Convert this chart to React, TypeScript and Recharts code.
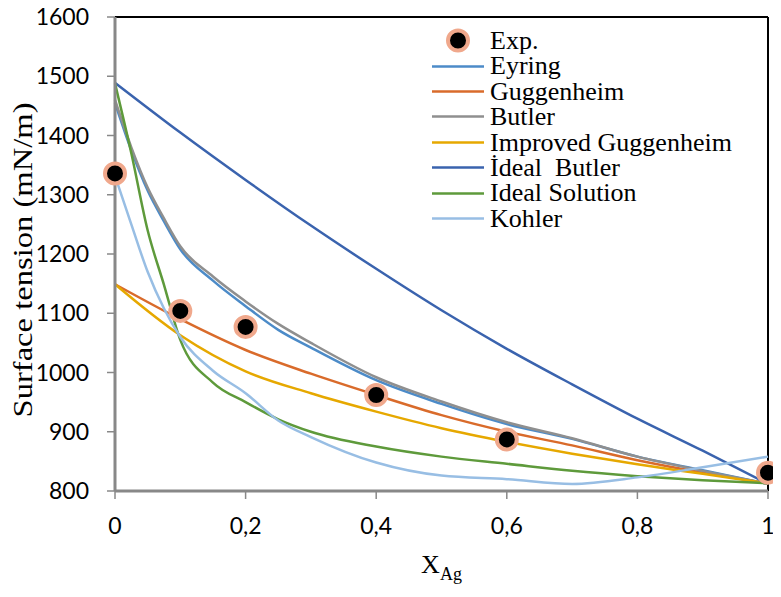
import React from "react";
import {
  ComposedChart,
  Line,
  Scatter,
  XAxis,
  YAxis,
  Legend,
  Label,
  ReferenceLine,
} from "recharts";

// composition grids
const xFine = [0, 0.025, 0.05, 0.075, 0.1, 0.15, 0.2, 0.25, 0.3, 0.4, 0.5, 0.6, 0.7, 0.8, 0.9, 1];
const xCoarse = [0, 0.1, 0.2, 0.3, 0.4, 0.5, 0.6, 0.7, 0.8, 0.9, 1];

// model curves (mN/m)
const eyring = [1455, 1375, 1307, 1255, 1208, 1155, 1112, 1072, 1042, 987, 947, 913, 888, 858, 835, 812];
const butler = [1460, 1380, 1312, 1260, 1213, 1162, 1120, 1082, 1050, 992, 951, 916, 889, 858, 834, 812];
const idealSolution = [1488, 1370, 1240, 1148, 1055, 983, 950, 921, 900, 875, 858, 846, 834, 825, 818, 813];
const kohler = [1332, 1250, 1170, 1108, 1060, 1003, 965, 919, 891, 848, 826, 820, 812, 823, 840, 858];
const guggenheim = [1149, 1090, 1038, 998, 962, 928, 900, 877, 852, 831, 813];
const improvedGuggenheim = [1149, 1063, 1002, 965, 934, 906, 883, 863, 845, 829, 813];
const idealButler = [1489, 1405, 1325, 1248, 1175, 1105, 1040, 980, 922, 868, 812];

// experimental points
const expX = [0, 0.1, 0.2, 0.4, 0.6, 1];
const expY = [1336, 1104, 1077, 962, 887, 831];

const yTicks = [800, 900, 1000, 1100, 1200, 1300, 1400, 1500, 1600];
const xTicks = [0, 0.2, 0.4, 0.6, 0.8, 1];

const toRows = (xs: number[], vs: number[]) => xs.map((x, i) => ({ x, v: vs[i] }));

const series = [
  { name: "Eyring", color: "#4C8BC8", data: toRows(xFine, eyring) },
  { name: "Guggenheim", color: "#D96B2B", data: toRows(xCoarse, guggenheim) },
  { name: "Butler", color: "#8F8F8F", data: toRows(xFine, butler) },
  { name: "Improved Guggenheim", color: "#E6A800", data: toRows(xCoarse, improvedGuggenheim) },
  { name: "İdeal  Butler", color: "#3A63AE", data: toRows(xCoarse, idealButler) },
  { name: "Ideal Solution", color: "#5E9A3B", data: toRows(xFine, idealSolution) },
  { name: "Kohler", color: "#98BEE4", data: toRows(xFine, kohler) },
];

const expData = toRows(expX, expY);
const ringColor = "#F0A88C";
const serif = "'Liberation Serif', 'Times New Roman', serif";
const tickFont = { fontFamily: "Lato", fontSize: 23, fill: "#000" };

const ExpDot = (props: any) => (
  <circle cx={props.cx} cy={props.cy} r={10} fill="#000" stroke={ringColor} strokeWidth={4} />
);

const rowStyle = { display: "flex", alignItems: "center", height: 25.4 };
const labelStyle: React.CSSProperties = {
  display: "inline-block",
  marginLeft: 6,
  height: 25.4,
  lineHeight: "25.4px",
  whiteSpace: "pre",
};

const renderLegend = () => (
  <div style={{ fontFamily: serif, fontSize: 26, color: "#000" }}>
    <div style={rowStyle}>
      <svg width={52} height={25}>
        <circle cx={26} cy={12.5} r={10} fill="#000" stroke={ringColor} strokeWidth={4} />
      </svg>
      <span style={labelStyle}>Exp.</span>
    </div>
    {series.map((s) => (
      <div key={s.name} style={rowStyle}>
        <svg width={52} height={25}>
          <line x1={0} y1={12.5} x2={52} y2={12.5} stroke={s.color} strokeWidth={2.5} />
        </svg>
        <span style={labelStyle}>{s.name}</span>
      </div>
    ))}
  </div>
);

const XTitle = (props: any) => {
  const vb = props.viewBox;
  return (
    <text x={vb.x + vb.width / 2} y={vb.y + 82} textAnchor="middle" fontFamily={serif} fill="#000">
      <tspan fontSize={26}>X</tspan>
      <tspan fontSize={18} dy={7}>Ag</tspan>
    </text>
  );
};

const YTitle = () => (
  <text
    x={32}
    y={260}
    transform="rotate(-90 32 260)"
    textAnchor="middle"
    fontFamily={serif}
    fontSize={27}
    textLength={315}
    lengthAdjust="spacingAndGlyphs"
    fill="#000"
  >
    Surface tension (mN/m)
  </text>
);

export default function App() {
  return (
    <div style={{ margin: -8 }}>
      <ComposedChart width={781} height={597} margin={{ top: 17, right: 13, bottom: 0, left: 0 }}>
        <XAxis
          type="number"
          dataKey="x"
          domain={[0, 1]}
          ticks={xTicks}
          tickFormatter={(v: number) => String(v).replace(".", ",")}
          height={106}
          tickSize={8}
          tickMargin={19}
          tick={tickFont}
          axisLine={{ stroke: "#888", strokeWidth: 3 }}
          tickLine={{ stroke: "#888", strokeWidth: 1.5 }}
        >
          <Label content={XTitle} />
        </XAxis>
        <YAxis
          type="number"
          domain={[800, 1600]}
          ticks={yTicks}
          width={115}
          tickSize={8}
          tickMargin={18}
          tick={tickFont}
          axisLine={{ stroke: "#888", strokeWidth: 3 }}
          tickLine={{ stroke: "#888", strokeWidth: 1.5 }}
        >
          <Label content={YTitle} />
        </YAxis>
        <ReferenceLine y={1600} stroke="#000" strokeWidth={2} />
        <ReferenceLine x={1} stroke="#000" strokeWidth={2} />
        <Legend
          layout="horizontal"
          verticalAlign="middle"
          align="center"
          content={renderLegend}
          wrapperStyle={{ left: 432, top: 28, width: 330, height: 210 }}
        />
        {series.map((s) => (
          <Line
            key={s.name}
            data={s.data}
            dataKey="v"
            name={s.name}
            type="monotone"
            stroke={s.color}
            strokeWidth={2.5}
            dot={false}
            activeDot={false}
            isAnimationActive={false}
          />
        ))}
        <Scatter data={expData} dataKey="v" name="Exp." shape={ExpDot} isAnimationActive={false} />
      </ComposedChart>
    </div>
  );
}
